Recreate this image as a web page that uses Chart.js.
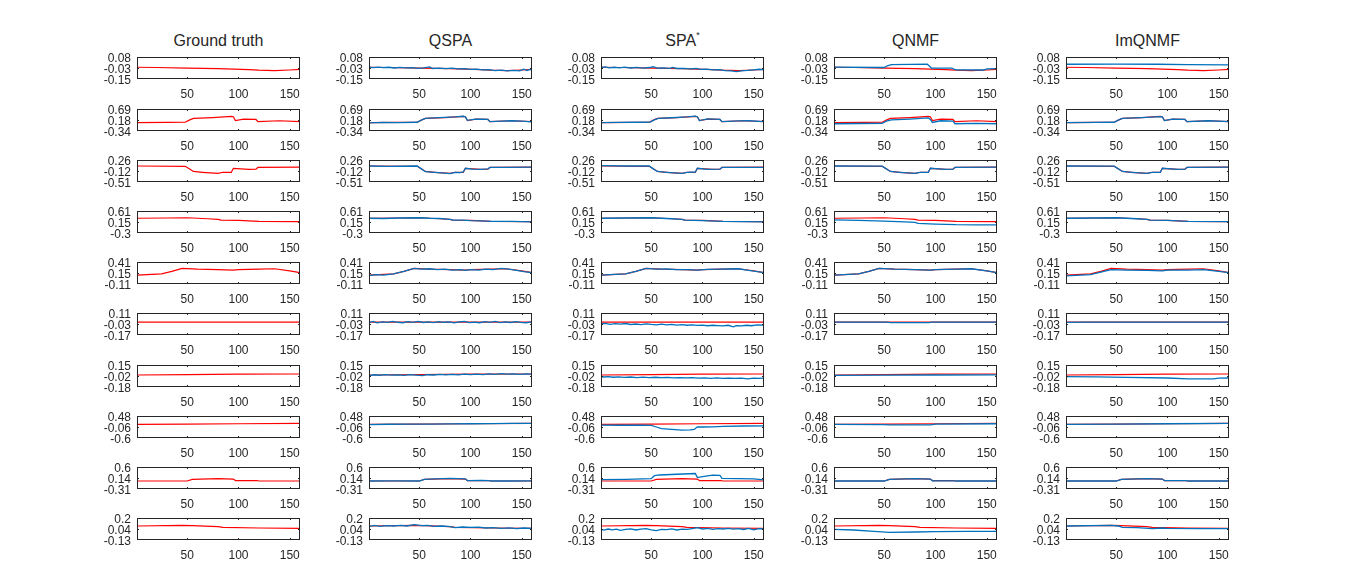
<!DOCTYPE html>
<html lang="en">
<head>
<meta charset="UTF-8">
<title>Abundance curves</title>
<script src="https://cdn.jsdelivr.net/npm/chart.js"></script>
<style>
  body { margin: 0; background: #fff; width: 1366px; height: 569px; overflow: hidden; position: relative;
         font-family: "Liberation Sans", Arial, sans-serif; }
  .title { position: absolute; top: 32px; width: 163px; text-align: center; font-size: 16px;
           line-height: 18px; color: #262626; }
  .title sup { font-size: 9px; vertical-align: 8px; line-height: 0; }
  canvas { position: absolute; }
</style>
</head>
<body>
<script>
// column titles
const methods = ['Ground truth', 'QSPA', 'SPA<sup>*</sup>', 'QNMF', 'ImQNMF'];

// axes
const xTicks = [50, 100, 150];
const yMin = [-0.15, -0.34, -0.51, -0.3, -0.11, -0.17, -0.18, -0.6, -0.31, -0.13];
const yMax = [0.08, 0.69, 0.26, 0.61, 0.41, 0.11, 0.15, 0.48, 0.6, 0.2];
const yTop = ['0.08', '0.69', '0.26', '0.61', '0.41', '0.11', '0.15', '0.48', '0.6', '0.2'];
const yMid = ['-0.03', '0.18', '-0.12', '0.15', '0.15', '-0.03', '-0.02', '-0.06', '0.14', '0.04'];
const yBottom = ['-0.15', '-0.34', '-0.51', '-0.3', '-0.11', '-0.17', '-0.18', '-0.6', '-0.31', '-0.13'];

// ground truth curves, one per row, as [x, y]
const truth = [
  [[1,-0.027],[20,-0.030],[50,-0.036],[80,-0.041],[95,-0.046],[110,-0.052],[120,-0.058],[135,-0.063],[150,-0.056],[160,-0.050]],
  [[1,0.05],[30,0.06],[48,0.07],[52,0.17],[56,0.25],[75,0.29],[93,0.34],[95,0.33],[97,0.15],[105,0.22],[117,0.20],[119,0.10],[140,0.14],[160,0.10]],
  [[1,0.05],[48,0.04],[52,-0.05],[56,-0.14],[65,-0.17],[80,-0.21],[85,-0.17],[93,-0.17],[95,-0.03],[110,-0.07],[117,-0.06],[119,0.0],[160,0.01]],
  [[1,0.31],[30,0.32],[50,0.33],[70,0.29],[80,0.26],[83,0.23],[100,0.22],[120,0.18],[160,0.17]],
  [[1,0.10],[25,0.13],[35,0.19],[45,0.26],[60,0.24],[80,0.23],[95,0.22],[100,0.23],[120,0.24],[135,0.25],[150,0.20],[160,0.16]],
  [[1,-0.005],[60,-0.005],[120,-0.005],[160,-0.005]],
  [[1,0.0],[50,0.005],[100,0.012],[160,0.015]],
  [[1,0.07],[50,0.085],[100,0.10],[160,0.12]],
  [[1,0.02],[50,0.02],[55,0.09],[80,0.12],[95,0.10],[97,0.04],[118,0.04],[120,0.02],[160,0.02]],
  [[1,0.08],[45,0.09],[55,0.085],[80,0.07],[85,0.06],[120,0.05],[160,0.045]]
];

// estimated curves per method
const qspa = [
  [[1,-0.025],[5,-0.032],[10,-0.026],[15,-0.031],[20,-0.027],[26,-0.035],[31,-0.029],[37,-0.034],[43,-0.031],[49,-0.038],[54,-0.033],[60,-0.024],[63,-0.040],[70,-0.036],[76,-0.041],[82,-0.037],[88,-0.044],[94,-0.042],[100,-0.050],[106,-0.047],[112,-0.055],[118,-0.053],[124,-0.062],[130,-0.058],[136,-0.066],[142,-0.060],[148,-0.065],[152,-0.048],[155,-0.062],[158,-0.050],[160,-0.055]],
  [[1,0.04],[15,0.06],[30,0.05],[48,0.07],[52,0.17],[56,0.25],[65,0.27],[75,0.30],[85,0.32],[93,0.35],[95,0.32],[97,0.16],[105,0.22],[112,0.21],[117,0.20],[119,0.10],[130,0.12],[140,0.14],[150,0.12],[160,0.09]],
  [[1,0.05],[20,0.04],[48,0.05],[52,-0.05],[56,-0.15],[65,-0.17],[72,-0.19],[80,-0.22],[85,-0.17],[90,-0.18],[93,-0.16],[95,-0.03],[102,-0.06],[110,-0.07],[117,-0.05],[119,0.0],[135,0.0],[160,0.01]],
  [[1,0.31],[15,0.30],[30,0.32],[50,0.33],[60,0.31],[70,0.30],[80,0.26],[83,0.23],[92,0.23],[100,0.21],[110,0.20],[120,0.18],[140,0.18],[160,0.16]],
  [[1,0.09],[8,0.11],[15,0.10],[25,0.13],[35,0.19],[45,0.26],[52,0.24],[60,0.25],[68,0.23],[75,0.24],[82,0.22],[90,0.23],[95,0.21],[100,0.23],[108,0.22],[115,0.24],[122,0.23],[130,0.26],[137,0.24],[145,0.21],[152,0.18],[160,0.16]],
  [[1,-0.012],[5,0.002],[9,-0.015],[14,-0.003],[19,-0.010],[24,0.003],[29,-0.008],[34,-0.014],[39,0.0],[44,-0.009],[49,0.004],[54,-0.011],[59,-0.002],[64,-0.013],[69,0.001],[74,-0.008],[79,-0.003],[84,-0.015],[89,-0.004],[94,0.002],[99,-0.012],[104,-0.006],[109,-0.014],[114,-0.001],[119,-0.010],[124,0.002],[129,-0.012],[134,-0.004],[139,-0.011],[144,0.001],[149,-0.009],[154,-0.014],[160,-0.004]],
  [[1,-0.008],[6,0.004],[11,-0.004],[17,0.006],[23,-0.002],[29,0.003],[35,-0.006],[41,0.005],[47,-0.003],[53,-0.010],[58,0.004],[64,0.0],[70,0.008],[76,0.001],[82,0.009],[88,0.002],[94,0.012],[100,0.006],[106,0.014],[112,0.005],[118,0.016],[124,0.010],[130,0.020],[136,0.012],[142,0.018],[148,0.008],[154,0.016],[160,0.012]],
  [[1,0.06],[20,0.075],[40,0.08],[60,0.085],[80,0.09],[100,0.10],[120,0.11],[140,0.12],[160,0.115]],
  [[1,0.02],[25,0.025],[50,0.02],[55,0.09],[65,0.11],[80,0.13],[95,0.11],[97,0.04],[110,0.05],[118,0.04],[120,0.02],[140,0.02],[160,0.03]],
  [[1,0.07],[6,0.09],[12,0.075],[18,0.085],[25,0.08],[32,0.09],[38,0.08],[45,0.10],[52,0.085],[58,0.09],[65,0.075],[72,0.08],[80,0.07],[85,0.055],[92,0.065],[100,0.058],[108,0.062],[115,0.05],[122,0.055],[130,0.045],[138,0.052],[145,0.04],[152,0.05],[160,0.045]]
];

const spa = [
  [[1,-0.030],[5,-0.024],[9,-0.034],[14,-0.027],[19,-0.033],[24,-0.026],[30,-0.035],[36,-0.028],[42,-0.036],[48,-0.030],[52,-0.022],[56,-0.036],[62,-0.033],[68,-0.038],[71,-0.028],[75,-0.040],[82,-0.038],[88,-0.044],[94,-0.040],[98,-0.050],[104,-0.046],[110,-0.054],[116,-0.052],[122,-0.062],[128,-0.066],[133,-0.072],[138,-0.064],[144,-0.060],[150,-0.054],[155,-0.048],[160,-0.052]],
  [[1,0.05],[20,0.06],[40,0.07],[49,0.08],[53,0.18],[57,0.25],[70,0.28],[85,0.32],[93,0.36],[95,0.33],[97,0.15],[105,0.23],[112,0.22],[117,0.20],[119,0.10],[135,0.13],[145,0.14],[160,0.10]],
  [[1,0.06],[25,0.05],[48,0.05],[52,-0.05],[56,-0.14],[65,-0.17],[80,-0.21],[85,-0.17],[93,-0.16],[95,-0.03],[105,-0.07],[117,-0.06],[119,0.0],[140,0.0],[160,0.0]],
  [[1,0.31],[25,0.32],[50,0.33],[70,0.29],[80,0.26],[83,0.23],[100,0.21],[120,0.18],[140,0.17],[160,0.16]],
  [[1,0.10],[10,0.11],[25,0.13],[35,0.19],[45,0.26],[55,0.24],[65,0.245],[75,0.23],[85,0.23],[95,0.22],[105,0.235],[115,0.24],[125,0.245],[135,0.25],[145,0.21],[152,0.19],[160,0.16]],
  [[1,-0.030],[5,-0.022],[10,-0.034],[15,-0.026],[20,-0.032],[25,-0.024],[30,-0.036],[35,-0.030],[40,-0.038],[45,-0.028],[50,-0.036],[55,-0.042],[60,-0.032],[65,-0.040],[70,-0.034],[75,-0.044],[80,-0.038],[85,-0.046],[90,-0.040],[95,-0.048],[100,-0.044],[105,-0.052],[110,-0.046],[115,-0.050],[120,-0.054],[125,-0.046],[130,-0.066],[133,-0.050],[138,-0.054],[143,-0.046],[148,-0.052],[153,-0.042],[160,-0.045]],
  [[1,-0.022],[4,-0.030],[8,-0.025],[13,-0.034],[18,-0.028],[24,-0.036],[30,-0.030],[36,-0.038],[42,-0.032],[48,-0.040],[54,-0.034],[60,-0.040],[66,-0.036],[72,-0.042],[78,-0.038],[84,-0.044],[90,-0.038],[96,-0.046],[102,-0.042],[108,-0.052],[114,-0.044],[120,-0.050],[126,-0.046],[132,-0.052],[138,-0.046],[144,-0.058],[150,-0.048],[155,-0.052],[160,-0.048]],
  [[1,0.03],[20,0.025],[40,0.03],[50,0.02],[55,-0.06],[60,-0.14],[70,-0.18],[80,-0.21],[88,-0.20],[92,-0.18],[95,-0.05],[100,-0.06],[110,-0.05],[120,-0.03],[140,-0.01],[160,0.0]],
  [[1,0.08],[25,0.09],[50,0.12],[53,0.24],[58,0.27],[75,0.30],[93,0.33],[95,0.16],[100,0.20],[110,0.26],[117,0.25],[119,0.13],[135,0.12],[150,0.11],[160,0.07]],
  [[1,0.030],[4,0.018],[8,0.035],[12,0.022],[16,0.032],[20,0.015],[25,0.030],[30,0.038],[35,0.020],[40,0.032],[45,0.040],[50,0.022],[55,0.012],[60,0.030],[65,0.025],[70,0.036],[75,0.020],[80,0.034],[85,0.028],[90,0.042],[95,0.055],[100,0.035],[105,0.045],[110,0.030],[115,0.042],[120,0.035],[125,0.045],[130,0.032],[135,0.040],[140,0.028],[145,0.045],[150,0.022],[155,0.040],[160,0.038]]
];

const qnmf = [
  [[1,-0.025],[50,-0.030],[53,-0.012],[57,0.0],[75,0.002],[92,0.004],[94,-0.015],[96,-0.035],[116,-0.036],[118,-0.048],[120,-0.054],[147,-0.056],[150,-0.045],[160,-0.042]],
  [[1,0.0],[25,0.01],[48,0.02],[52,0.12],[57,0.18],[75,0.22],[93,0.27],[95,0.20],[97,0.06],[105,0.14],[117,0.12],[119,0.0],[140,0.02],[160,0.0]],
  [[1,0.05],[48,0.045],[52,-0.05],[56,-0.14],[65,-0.17],[80,-0.21],[85,-0.17],[93,-0.17],[95,-0.03],[110,-0.065],[117,-0.06],[119,0.0],[160,0.01]],
  [[1,0.24],[25,0.22],[50,0.19],[70,0.16],[80,0.14],[83,0.10],[100,0.07],[120,0.045],[140,0.04],[160,0.04]],
  [[1,0.10],[25,0.13],[35,0.19],[45,0.26],[60,0.24],[80,0.23],[95,0.22],[100,0.23],[120,0.24],[135,0.25],[150,0.20],[160,0.16]],
  [[1,-0.005],[53,-0.005],[56,-0.012],[94,-0.012],[96,-0.005],[160,-0.005]],
  [[1,-0.005],[50,-0.002],[100,0.0],[160,0.002]],
  [[1,0.07],[50,0.06],[55,0.04],[95,0.045],[100,0.08],[160,0.10]],
  [[1,0.02],[50,0.02],[55,0.09],[80,0.12],[95,0.10],[97,0.03],[118,0.03],[120,0.02],[160,0.02]],
  [[1,0.03],[20,0.02],[40,0.0],[55,-0.015],[80,-0.01],[100,-0.005],[130,-0.002],[160,0.0]]
];

const imqnmf = [
  [[1,0.004],[50,0.006],[90,0.004],[120,0.0],[160,-0.002]],
  [[1,0.05],[30,0.06],[48,0.07],[52,0.17],[56,0.25],[75,0.29],[93,0.33],[95,0.32],[97,0.15],[105,0.22],[117,0.20],[119,0.10],[140,0.14],[160,0.10]],
  [[1,0.05],[48,0.045],[52,-0.05],[56,-0.14],[65,-0.17],[80,-0.21],[85,-0.17],[93,-0.17],[95,-0.03],[110,-0.07],[117,-0.06],[119,0.0],[160,0.01]],
  [[1,0.31],[30,0.32],[50,0.33],[70,0.29],[80,0.26],[83,0.23],[100,0.22],[120,0.18],[160,0.17]],
  [[1,0.08],[25,0.11],[35,0.17],[45,0.23],[60,0.22],[80,0.21],[95,0.20],[100,0.22],[120,0.22],[135,0.23],[150,0.19],[160,0.16]],
  [[1,-0.01],[20,-0.006],[160,-0.006]],
  [[1,-0.025],[30,-0.028],[60,-0.035],[100,-0.045],[120,-0.058],[145,-0.058],[150,-0.048],[160,-0.045]],
  [[1,0.07],[50,0.08],[100,0.10],[160,0.12]],
  [[1,0.02],[50,0.02],[55,0.09],[80,0.12],[95,0.10],[97,0.04],[118,0.04],[120,0.02],[160,0.02]],
  [[1,0.08],[45,0.09],[52,0.08],[56,0.06],[70,0.055],[85,0.04],[95,0.05],[100,0.045],[130,0.04],[160,0.04]]
];

const estimates = [null, qspa, spa, qnmf, imqnmf];

// layout of the grid (pixels)
const colLeft = [137, 369, 601, 834, 1066];
const boxW = 163, boxH = 22;
const rowTop0 = 57.3, rowStep = 51.2;
const padL = 70, padT = 8, padR = 8, padB = 24;
const ink = '#262626';
const fontFamily = '"Liberation Sans", Arial, sans-serif';
const tickFont = { family: fontFamily, size: 12 };

// box and inner tick marks like matlab axes
const frame = {
  id: 'frame',
  afterDraw(chart) {
    const { ctx, chartArea: a, scales } = chart;
    ctx.save();
    ctx.strokeStyle = ink;
    ctx.lineWidth = 1;
    ctx.strokeRect(a.left + 0.5, a.top + 0.5, a.width - 1, a.height - 1);
    ctx.beginPath();
    xTicks.forEach(v => {
      const px = Math.round(scales.x.getPixelForValue(v)) + 0.5;
      ctx.moveTo(px, a.top); ctx.lineTo(px, a.top + 2);
      ctx.moveTo(px, a.bottom); ctx.lineTo(px, a.bottom - 2);
    });
    const py = Math.round(scales.y.getPixelForValue((scales.y.min + scales.y.max) / 2)) + 0.5;
    ctx.moveTo(a.left, py); ctx.lineTo(a.left + 2, py);
    ctx.moveTo(a.right, py); ctx.lineTo(a.right - 2, py);
    ctx.stroke();
    ctx.restore();
  }
};

const toXY = pts => pts.map(p => ({ x: p[0], y: p[1] }));

function makeChart(col, row) {
  const W = padL + boxW + padR, H = padT + boxH + padB;
  const canvas = document.createElement('canvas');
  canvas.width = W; canvas.height = H;
  canvas.style.width = W + 'px'; canvas.style.height = H + 'px';
  canvas.style.left = (colLeft[col] - padL) + 'px';
  canvas.style.top = (Math.round(rowTop0 + rowStep * row) - padT) + 'px';
  document.body.appendChild(canvas);

  const datasets = [];
  if (col > 0) {
    datasets.push({ data: toXY(estimates[col][row]), borderColor: '#0072BD', borderWidth: 1.3, order: 0 });
  }
  datasets.push({ data: toXY(truth[row]), borderColor: '#FF0000', borderWidth: 1.2, order: 1 });

  const labels = [yBottom[row], yMid[row], yTop[row]];

  new Chart(canvas, {
    type: 'line',
    data: { datasets },
    plugins: [frame],
    options: {
      responsive: false,
      animation: false,
      events: [],
      layout: { padding: { left: 0, top: padT, right: padR, bottom: 0 } },
      plugins: { legend: { display: false }, tooltip: { enabled: false } },
      elements: { point: { radius: 0 }, line: { tension: 0 } },
      scales: {
        x: {
          type: 'linear', min: 1, max: 160,
          grid: { display: false, drawTicks: false }, border: { display: false },
          ticks: { padding: 8, color: ink, font: tickFont, maxRotation: 0, autoSkip: false },
          afterBuildTicks: s => { s.ticks = xTicks.map(v => ({ value: v })); },
          afterFit: s => { s.height = padB; s.paddingLeft = 0; s.paddingRight = 0; }
        },
        y: {
          min: yMin[row], max: yMax[row],
          grid: { display: false, drawTicks: false }, border: { display: false },
          ticks: { padding: 6, labelOffset: 2, color: ink, font: tickFont, autoSkip: false,
                   callback: (v, i) => labels[i] },
          afterBuildTicks: s => {
            s.ticks = [{ value: yMin[row] }, { value: (yMin[row] + yMax[row]) / 2 }, { value: yMax[row] }];
          },
          afterFit: s => { s.width = padL; s.paddingTop = 0; s.paddingBottom = 0; }
        }
      }
    }
  });
}

methods.forEach((name, col) => {
  const t = document.createElement('div');
  t.className = 'title';
  t.style.left = colLeft[col] + 'px';
  t.innerHTML = name;
  document.body.appendChild(t);
  for (let row = 0; row < truth.length; row++) makeChart(col, row);
});
</script>
</body>
</html>
